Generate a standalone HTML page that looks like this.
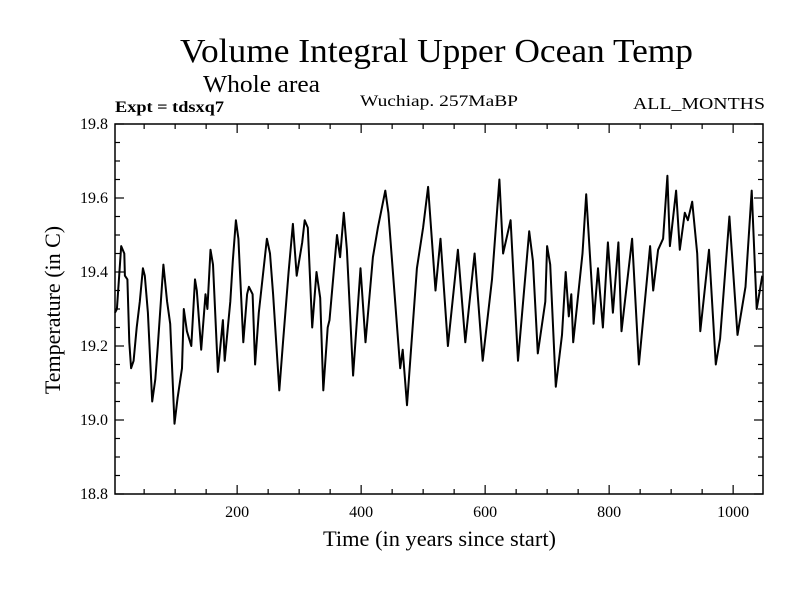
<!DOCTYPE html>
<html><head><meta charset="utf-8"><style>
body{margin:0;background:#fff;}
svg text{font-family:"Liberation Serif",serif;fill:#000;}
</style></head><body>
<svg id="chart" width="800" height="600" viewBox="0 0 800 600" xmlns="http://www.w3.org/2000/svg">
<rect width="800" height="600" fill="#fff"/>
<text x="180" y="62" font-size="34" textLength="513" lengthAdjust="spacingAndGlyphs">Volume Integral Upper Ocean Temp</text>
<text x="203" y="92" font-size="24" textLength="117" lengthAdjust="spacingAndGlyphs">Whole area</text>
<text x="115" y="112" font-size="16" font-weight="bold" textLength="109" lengthAdjust="spacingAndGlyphs">Expt = tdsxq7</text>
<text x="360" y="106" font-size="16" textLength="158" lengthAdjust="spacingAndGlyphs">Wuchiap. 257MaBP</text>
<text x="633" y="109" font-size="17" textLength="132" lengthAdjust="spacingAndGlyphs">ALL_MONTHS</text>
<text x="323" y="546" font-size="22" textLength="233" lengthAdjust="spacingAndGlyphs">Time (in years since start)</text>
<text x="0" y="0" font-size="22" text-anchor="middle" transform="translate(60,310) rotate(-90)">Temperature (in C)</text>
<g id="axes"></g>
<path id="series" fill="none" stroke="#000" stroke-width="2" stroke-linejoin="round"/>
<rect x="115" y="124" width="648" height="370" fill="none" stroke="#000" stroke-width="1.5"/>
</svg>
<script>
const years=[3,6,13,18,19,23,26,29,33,38,43,48,51,56,63,68,72,81,87,92,99,104,111,114,119,126,132,135,142,149,152,157,161,169,177,180,189,193,198,202,210,216,219,225,229,235,248,253,258,268,274,283,290,296,305,309,314,321,328,334,339,346,349,361,366,372,377,387,399,407,419,427,439,444,463,467,474,490,500,508,520,528,540,556,568,583,596,611,623,629,641,653,671,677,685,697,700,705,714,724,730,735,739,742,757,763,774,775,782,790,798,806,815,820,837,848,866,871,879,887,894,898,908,914,922,927,934,942,947,961,972,979,994,1007,1020,1030,1038,1047];
const temps=[19.29,19.30,19.47,19.45,19.39,19.38,19.21,19.14,19.16,19.25,19.32,19.41,19.39,19.29,19.05,19.11,19.20,19.42,19.32,19.26,18.99,19.06,19.14,19.30,19.24,19.20,19.38,19.35,19.19,19.34,19.30,19.46,19.42,19.13,19.27,19.16,19.32,19.43,19.54,19.49,19.21,19.34,19.36,19.34,19.15,19.29,19.49,19.45,19.34,19.08,19.21,19.40,19.53,19.39,19.48,19.54,19.52,19.25,19.40,19.33,19.08,19.25,19.27,19.50,19.44,19.56,19.46,19.12,19.41,19.21,19.44,19.52,19.62,19.56,19.14,19.19,19.04,19.41,19.52,19.63,19.35,19.49,19.20,19.46,19.21,19.45,19.16,19.38,19.65,19.45,19.54,19.16,19.51,19.43,19.18,19.32,19.47,19.42,19.09,19.23,19.40,19.28,19.34,19.21,19.45,19.61,19.31,19.26,19.41,19.25,19.48,19.29,19.48,19.24,19.49,19.15,19.47,19.35,19.46,19.49,19.66,19.47,19.62,19.46,19.56,19.54,19.59,19.45,19.24,19.46,19.15,19.22,19.55,19.23,19.36,19.62,19.30,19.39];
const xTickLabels=[200,400,600,800,1000];
const yTickLabels=["18.8","19.0","19.2","19.4","19.6","19.8"];
const X0=115,X1=763,Y0=124,Y1=494,XMIN=3,XPX=0.62,YMIN=18.8,YMAX=19.8;
function sx(v){return X0+(v-XMIN)*XPX;}
function sy(v){return Y1-(v-YMIN)/(YMAX-YMIN)*(Y1-Y0);}
const NS="http://www.w3.org/2000/svg";
const ax=document.getElementById('axes');
function line(x1,y1,x2,y2,name){const l=document.createElementNS(NS,'line');l.setAttribute('x1',x1);l.setAttribute('y1',y1);l.setAttribute('x2',x2);l.setAttribute('y2',y2);l.setAttribute('stroke','#000');l.setAttribute('stroke-width','1.2');


ax.appendChild(l);}
function txt(x,y,s,anchor,name){const t=document.createElementNS(NS,'text');t.setAttribute('x',x);t.setAttribute('y',y);t.setAttribute('font-size','16');t.setAttribute('text-anchor',anchor);t.textContent=s;


ax.appendChild(t);}
for(let v=50;v<=1050;v+=50){const x=sx(v);if(x>X1)break;const L=(v%200===0)?9:5;
line(x,Y1,x,Y1-L,'x-tick');line(x,Y0,x,Y0+L,'x-tick-top');}
xTickLabels.forEach(v=>txt(sx(v),Y1+23,String(v),'middle','x-tick-label'));
for(let i=0;i<=20;i++){const v=YMIN+i*0.05;const y=sy(v);const L=(i%4===0)?9:5;
line(X0,y,X0+L,y,'y-tick');line(X1,y,X1-L,y,'y-tick-right');}
yTickLabels.forEach(s=>txt(X0-7,sy(parseFloat(s))+5,s,'end','y-tick-label'));
let d='';years.forEach((yr,i)=>{d+=(i?'L':'M')+sx(yr).toFixed(1)+','+sy(temps[i]).toFixed(1);});
document.getElementById('series').setAttribute('d',d);
</script>
</body></html>
